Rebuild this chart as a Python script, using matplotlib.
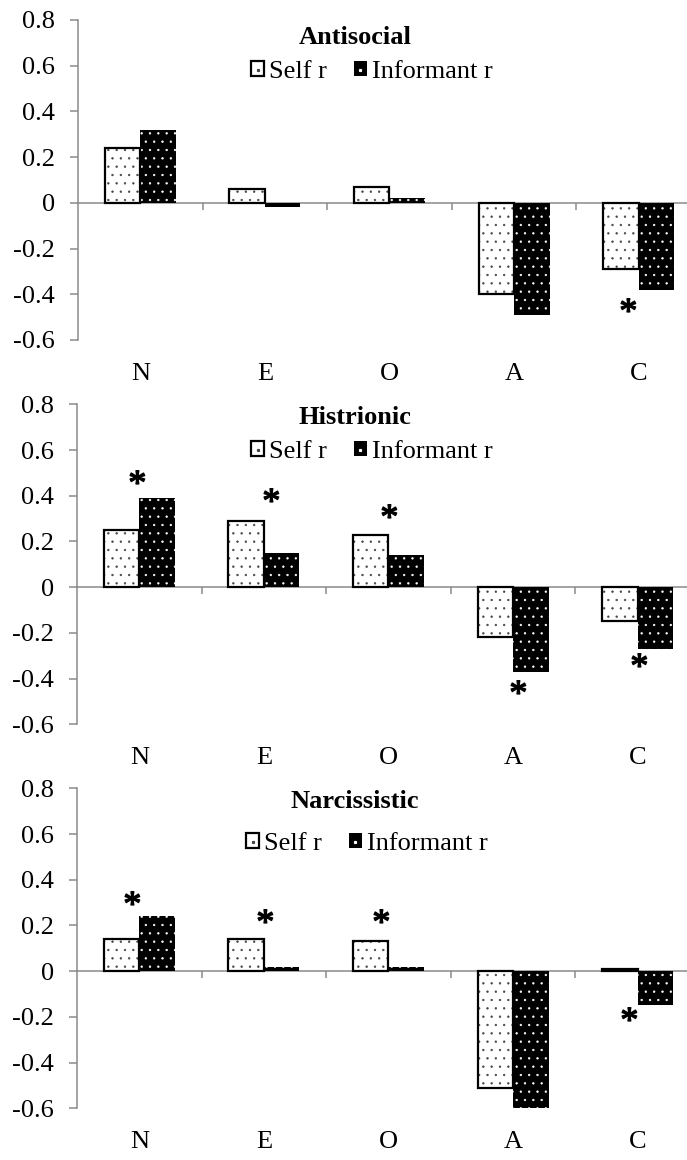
import matplotlib
matplotlib.use("Agg")
import matplotlib.pyplot as plt
from matplotlib.patches import Patch
from matplotlib.lines import Line2D
from matplotlib.legend_handler import HandlerTuple
from matplotlib.textpath import TextPath
from matplotlib.font_manager import FontProperties
from matplotlib.path import Path
import numpy as np

# ---- data -------------------------------------------------------------
traits = ["N", "E", "O", "A", "C"]
disorders = ["Antisocial", "Histrionic", "Narcissistic"]
legend_labels = ["Self r", "Informant r"]

antisocial_self = [0.24, 0.06, 0.07, -0.40, -0.29]
antisocial_informant = [0.32, -0.02, 0.02, -0.49, -0.38]

histrionic_self = [0.25, 0.29, 0.23, -0.22, -0.15]
histrionic_informant = [0.39, 0.15, 0.14, -0.37, -0.27]

narcissistic_self = [0.14, 0.14, 0.13, -0.51, 0.01]
narcissistic_informant = [0.24, 0.02, 0.02, -0.60, -0.15]

# significant self/informant differences:
# (trait index, sideways nudge in category units, height of the star)
antisocial_stars = [(4, -0.09, -0.47)]
histrionic_stars = [(0, -0.03, 0.46), (1, 0.05, 0.38), (2, 0.0, 0.31),
                    (3, 0.03, -0.46), (4, 0.0, -0.34)]
narcissistic_stars = [(0, -0.07, 0.30), (1, 0.0, 0.22), (2, -0.07, 0.22),
                      (4, -0.08, -0.21)]

y_ticks = [0.8, 0.6, 0.4, 0.2, 0.0, -0.2, -0.4, -0.6]
y_tick_labels = ["0.8", "0.6", "0.4", "0.2", "0", "-0.2", "-0.4", "-0.6"]

self_series = [antisocial_self, histrionic_self, narcissistic_self]
informant_series = [antisocial_informant, histrionic_informant, narcissistic_informant]
star_series = [antisocial_stars, histrionic_stars, narcissistic_stars]

# ---- style ------------------------------------------------------------
plt.rcParams["font.family"] = ["Liberation Serif", "DejaVu Serif"]
plt.rcParams["hatch.linewidth"] = 0.45
plt.rcParams["axes.unicode_minus"] = False

W, H = 687, 1160
FS = 19
GRAY = "#8a8a8a"

# panel placement in pixels
panel_left = [78, 77, 77]
panel_top = [20, 404.3, 788.3]
panel_w, panel_h = 623, 320
title_pos = [(355, 37), (355, 417), (355, 802)]
legend_pos = [(372, 72), (372, 452), (367, 844)]

# asterisk glyph from the serif font, centred for use as a marker
star_tp = TextPath((0, 0), "*", prop=FontProperties(family="Liberation Serif"), size=10)
sv = star_tp.vertices.copy()
sv -= (sv.min(axis=0) + sv.max(axis=0)) / 2
star_marker = Path(sv, star_tp.codes)

fig = plt.figure(figsize=(W / 100, H / 100), dpi=100)

x = np.arange(len(traits))
bw = 1 / 3.5

for k, name in enumerate(disorders):
    ax = fig.add_axes([panel_left[k] / W, 1 - (panel_top[k] + panel_h) / H,
                       panel_w / W, panel_h / H])
    ax.set_xlim(-0.5, len(traits) - 0.5)
    ax.set_ylim(-0.6, 0.8)

    # self bars: dotted white fill with black outline
    ax.bar(x - bw / 2, self_series[k], bw, facecolor="white", edgecolor="#444444",
           hatch="..", linewidth=0, zorder=3)
    ax.bar(x - bw / 2, self_series[k], bw, facecolor="none", edgecolor="black",
           linewidth=1.6, zorder=4)
    # informant bars: black fill with white dots
    ax.bar(x + bw / 2, informant_series[k], bw, facecolor="black", edgecolor="white",
           hatch="..", linewidth=0, zorder=3)

    # significance stars
    for idx, dx, yv in star_series[k]:
        ax.plot(x[idx] + dx, yv, marker=star_marker, ms=17, color="black",
                ls="none", zorder=5)

    # axes styling
    for side in ("top", "right"):
        ax.spines[side].set_visible(False)
    ax.spines["left"].set_color(GRAY)
    ax.spines["left"].set_linewidth(1.1)
    ax.spines["bottom"].set_position(("data", 0))
    ax.spines["bottom"].set_color(GRAY)
    ax.spines["bottom"].set_linewidth(1.1)

    ax.set_yticks(y_ticks, y_tick_labels)
    ax.tick_params(axis="y", direction="out", length=5.8, width=1.1, color=GRAY,
                   pad=10.8, labelsize=FS)
    ax.set_xticks([])
    ax.set_xticks(x[1:] - 0.5, minor=True)
    ax.tick_params(axis="x", which="minor", direction="out", length=5, width=1.1,
                   color=GRAY)

    for i, t in enumerate(traits):
        ax.annotate(t, xy=(x[i], 0), xycoords=("data", "axes fraction"),
                    xytext=(0, -28.8), textcoords="offset points",
                    ha="center", va="baseline", fontsize=FS)

    tx, ty = title_pos[k]
    fig.text(tx / W, 1 - ty / H, name, ha="center", va="center",
             fontsize=FS, fontweight="bold")

    self_handle = (Patch(facecolor="white", edgecolor="black", linewidth=1.6),
                   Line2D([], [], marker="s", ms=1.3, color="#444444", ls="none"))
    inf_handle = (Patch(facecolor="black", edgecolor="black", linewidth=0),
                  Line2D([], [], marker="s", ms=1.3, color="white", ls="none"))
    lx, ly = legend_pos[k]
    fig.legend([self_handle, inf_handle], legend_labels,
               handler_map={tuple: HandlerTuple(ndivide=1, pad=0)},
               loc="center", bbox_to_anchor=(lx / W, 1 - ly / H),
               bbox_transform=fig.transFigure, ncol=2, frameon=False,
               fontsize=FS, handlelength=0.5, handleheight=0.5,
               handletextpad=0.2, columnspacing=1.0, borderpad=0,
               borderaxespad=0)

fig.savefig("out.png", dpi=100)
